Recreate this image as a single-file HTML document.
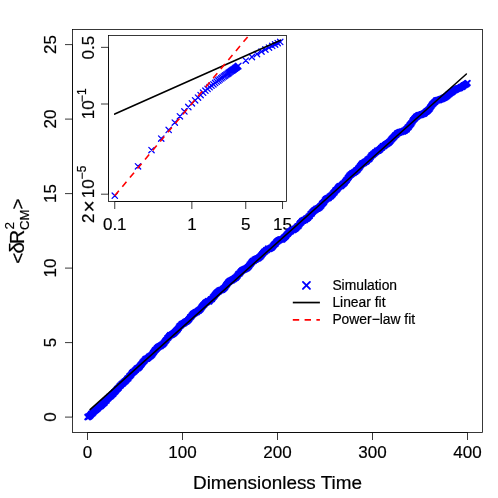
<!DOCTYPE html>
<html><head><meta charset="utf-8"><title>plot</title>
<style>html,body{margin:0;padding:0;background:#fff}svg{display:block;will-change:transform}text{font-family:"Liberation Sans",sans-serif;stroke:#000;stroke-width:0.2px}</style>
</head><body>
<svg width="498" height="498" viewBox="0 0 498 498" font-family="Liberation Sans, sans-serif" fill="#000">
<rect width="498" height="498" fill="#fff"/>
<rect x="72.5" y="29.5" width="410.0" height="403.0" fill="none" stroke="#000" stroke-width="0.78"/>
<path d="M87.50 432.5v7.5M182.50 432.5v7.5M277.50 432.5v7.5M372.50 432.5v7.5M467.50 432.5v7.5M87.50 432.5H467.50M72.5 417.10h-7.5M72.5 342.60h-7.5M72.5 268.10h-7.5M72.5 193.60h-7.5M72.5 119.10h-7.5M72.5 44.60h-7.5M72.5 417.10V44.60" stroke="#000" stroke-width="0.78" fill="none"/>
<text x="87.50" y="457.9" font-size="17.0" text-anchor="middle">0</text>
<text x="182.50" y="457.9" font-size="17.0" text-anchor="middle">100</text>
<text x="277.50" y="457.9" font-size="17.0" text-anchor="middle">200</text>
<text x="372.50" y="457.9" font-size="17.0" text-anchor="middle">300</text>
<text x="467.50" y="457.9" font-size="17.0" text-anchor="middle">400</text>
<text transform="translate(55.7 417.10) rotate(-90)" font-size="17.0" text-anchor="middle">0</text>
<text transform="translate(55.7 342.60) rotate(-90)" font-size="17.0" text-anchor="middle">5</text>
<text transform="translate(55.7 268.10) rotate(-90)" font-size="17.0" text-anchor="middle">10</text>
<text transform="translate(55.7 193.60) rotate(-90)" font-size="17.0" text-anchor="middle">15</text>
<text transform="translate(55.7 119.10) rotate(-90)" font-size="17.0" text-anchor="middle">20</text>
<text transform="translate(55.7 44.60) rotate(-90)" font-size="17.0" text-anchor="middle">25</text>
<text x="277.50" y="489.3" font-size="18.9" text-anchor="middle">Dimensionless Time</text>
<text transform="translate(23.9 258.3) rotate(-90)" font-size="18.9" text-anchor="middle">&lt;</text>
<text transform="translate(23.9 247.8) rotate(-90)" font-size="20.5" text-anchor="middle">δ</text>
<text transform="translate(23.9 236.85) rotate(-90)" font-size="19.6" text-anchor="middle">R</text>
<text transform="translate(14.099999999999998 225.8) rotate(-90)" font-size="13.6" text-anchor="middle">2</text>
<text transform="translate(29.2 219.85) rotate(-90)" font-size="13.1" text-anchor="middle">CM</text>
<text transform="translate(24.299999999999997 204.05) rotate(-90)" font-size="18.9" text-anchor="middle">&gt;</text>
<rect x="108.5" y="35.5" width="178.0" height="166.0" fill="#fff" stroke="none"/>
<clipPath id="ic"><rect x="108.5" y="35.5" width="178.0" height="166.0"/></clipPath>
<g clip-path="url(#ic)">
<path d="M112.1 193.0l5.4 5.4m0 -5.4l-5.4 5.4M135.3 163.6l5.4 5.4m0 -5.4l-5.4 5.4M148.8 147.4l5.4 5.4m0 -5.4l-5.4 5.4M158.5 135.9l5.4 5.4m0 -5.4l-5.4 5.4M166.0 127.2l5.4 5.4m0 -5.4l-5.4 5.4M172.1 119.9l5.4 5.4m0 -5.4l-5.4 5.4M177.2 113.6l5.4 5.4m0 -5.4l-5.4 5.4M181.7 108.7l5.4 5.4m0 -5.4l-5.4 5.4M185.6 104.3l5.4 5.4m0 -5.4l-5.4 5.4M189.2 100.6l5.4 5.4m0 -5.4l-5.4 5.4M192.4 97.6l5.4 5.4m0 -5.4l-5.4 5.4M195.3 94.9l5.4 5.4m0 -5.4l-5.4 5.4M197.9 92.4l5.4 5.4m0 -5.4l-5.4 5.4M200.4 90.0l5.4 5.4m0 -5.4l-5.4 5.4M202.7 88.0l5.4 5.4m0 -5.4l-5.4 5.4M204.9 86.2l5.4 5.4m0 -5.4l-5.4 5.4M206.9 84.5l5.4 5.4m0 -5.4l-5.4 5.4M208.8 83.0l5.4 5.4m0 -5.4l-5.4 5.4M210.7 81.6l5.4 5.4m0 -5.4l-5.4 5.4M212.4 80.2l5.4 5.4m0 -5.4l-5.4 5.4M214.0 79.0l5.4 5.4m0 -5.4l-5.4 5.4M215.6 77.8l5.4 5.4m0 -5.4l-5.4 5.4M217.0 76.7l5.4 5.4m0 -5.4l-5.4 5.4M218.5 75.7l5.4 5.4m0 -5.4l-5.4 5.4M219.8 74.7l5.4 5.4m0 -5.4l-5.4 5.4M221.2 73.7l5.4 5.4m0 -5.4l-5.4 5.4M222.4 72.8l5.4 5.4m0 -5.4l-5.4 5.4M223.6 71.9l5.4 5.4m0 -5.4l-5.4 5.4M224.8 71.1l5.4 5.4m0 -5.4l-5.4 5.4M225.9 70.3l5.4 5.4m0 -5.4l-5.4 5.4M227.0 69.5l5.4 5.4m0 -5.4l-5.4 5.4M228.1 68.7l5.4 5.4m0 -5.4l-5.4 5.4M229.1 68.0l5.4 5.4m0 -5.4l-5.4 5.4M230.1 67.3l5.4 5.4m0 -5.4l-5.4 5.4M231.1 66.6l5.4 5.4m0 -5.4l-5.4 5.4M232.1 65.9l5.4 5.4m0 -5.4l-5.4 5.4M233.0 65.2l5.4 5.4m0 -5.4l-5.4 5.4M233.9 64.6l5.4 5.4m0 -5.4l-5.4 5.4M234.7 63.9l5.4 5.4m0 -5.4l-5.4 5.4M235.6 63.3l5.4 5.4m0 -5.4l-5.4 5.4M243.1 57.9l5.4 5.4m0 -5.4l-5.4 5.4M249.2 54.3l5.4 5.4m0 -5.4l-5.4 5.4M254.3 51.4l5.4 5.4m0 -5.4l-5.4 5.4M258.8 48.9l5.4 5.4m0 -5.4l-5.4 5.4M262.7 46.8l5.4 5.4m0 -5.4l-5.4 5.4M266.3 44.9l5.4 5.4m0 -5.4l-5.4 5.4M269.5 43.2l5.4 5.4m0 -5.4l-5.4 5.4M272.4 41.8l5.4 5.4m0 -5.4l-5.4 5.4M275.0 40.4l5.4 5.4m0 -5.4l-5.4 5.4M277.5 39.2l5.4 5.4m0 -5.4l-5.4 5.4" stroke="#0000ff" stroke-width="1.3" stroke-linecap="round" fill="none"/>
<line x1="114.76" y1="114.1" x2="280.5" y2="40.2" stroke="#000" stroke-width="1.6" stroke-linecap="round"/>
<line x1="114.76" y1="195.7" x2="248.82" y2="35.5" stroke="#ff0000" stroke-width="1.6" stroke-dasharray="6.4 5.4"/>
</g>
<rect x="108.5" y="35.5" width="178.0" height="166.0" fill="none" stroke="#000" stroke-width="0.78"/>
<path d="M114.76 201.5v7.5M191.86 201.5v7.5M245.75 201.5v7.5M282.54 201.5v7.5M114.76 201.5H282.54M108.5 47.35h-7.5M108.5 104.0h-7.5M108.5 194.2h-7.5M108.5 47.35V194.2" stroke="#000" stroke-width="0.78" fill="none"/>
<text x="114.76" y="229.5" font-size="17.0" text-anchor="middle">0.1</text>
<text x="191.86" y="229.5" font-size="17.0" text-anchor="middle">1</text>
<text x="245.75" y="229.5" font-size="17.0" text-anchor="middle">5</text>
<text x="282.54" y="229.5" font-size="17.0" text-anchor="middle">15</text>
<text transform="translate(93.7 47.6) rotate(-90)" font-size="17.0" text-anchor="middle">0.5</text>
<text transform="translate(93.7 109.85) rotate(-90)" font-size="17.0" text-anchor="middle">10</text>
<text transform="translate(85.5 95.05) rotate(-90)" font-size="11.9" text-anchor="middle">−1</text>
<text transform="translate(93.7 218.35) rotate(-90)" font-size="17.0" text-anchor="middle">2</text>
<text transform="translate(95.7 206.4) rotate(-90)" font-size="21" text-anchor="middle">×</text>
<text transform="translate(93.7 188.85) rotate(-90)" font-size="17.0" text-anchor="middle">10</text>
<text transform="translate(85.5 172.3) rotate(-90)" font-size="11.9" text-anchor="middle">−5</text>
<path d="M85.2 414.8l4.6 4.6m0 -4.6l-4.6 4.6M85.3 414.8l4.6 4.6m0 -4.6l-4.6 4.6M85.4 414.8l4.6 4.6m0 -4.6l-4.6 4.6M85.5 414.8l4.6 4.6m0 -4.6l-4.6 4.6M85.6 414.7l4.6 4.6m0 -4.6l-4.6 4.6M85.7 414.7l4.6 4.6m0 -4.6l-4.6 4.6M85.8 414.7l4.6 4.6m0 -4.6l-4.6 4.6M85.9 414.6l4.6 4.6m0 -4.6l-4.6 4.6M86.0 414.6l4.6 4.6m0 -4.6l-4.6 4.6M86.1 414.5l4.6 4.6m0 -4.6l-4.6 4.6M86.2 414.5l4.6 4.6m0 -4.6l-4.6 4.6M86.2 414.4l4.6 4.6m0 -4.6l-4.6 4.6M86.3 414.4l4.6 4.6m0 -4.6l-4.6 4.6M86.4 414.3l4.6 4.6m0 -4.6l-4.6 4.6M86.5 414.2l4.6 4.6m0 -4.6l-4.6 4.6M86.6 414.2l4.6 4.6m0 -4.6l-4.6 4.6M86.7 414.1l4.6 4.6m0 -4.6l-4.6 4.6M86.8 414.0l4.6 4.6m0 -4.6l-4.6 4.6M86.9 414.0l4.6 4.6m0 -4.6l-4.6 4.6M87.0 413.9l4.6 4.6m0 -4.6l-4.6 4.6M87.1 413.8l4.6 4.6m0 -4.6l-4.6 4.6M87.2 413.7l4.6 4.6m0 -4.6l-4.6 4.6M87.3 413.6l4.6 4.6m0 -4.6l-4.6 4.6M87.4 413.6l4.6 4.6m0 -4.6l-4.6 4.6M87.5 413.5l4.6 4.6m0 -4.6l-4.6 4.6M87.6 413.4l4.6 4.6m0 -4.6l-4.6 4.6M87.7 413.3l4.6 4.6m0 -4.6l-4.6 4.6M87.8 413.2l4.6 4.6m0 -4.6l-4.6 4.6M87.9 413.1l4.6 4.6m0 -4.6l-4.6 4.6M88.0 413.0l4.6 4.6m0 -4.6l-4.6 4.6M88.0 412.9l4.6 4.6m0 -4.6l-4.6 4.6M88.1 412.8l4.6 4.6m0 -4.6l-4.6 4.6M88.2 412.7l4.6 4.6m0 -4.6l-4.6 4.6M88.3 412.6l4.6 4.6m0 -4.6l-4.6 4.6M88.4 412.5l4.6 4.6m0 -4.6l-4.6 4.6M88.5 412.4l4.6 4.6m0 -4.6l-4.6 4.6M88.6 412.3l4.6 4.6m0 -4.6l-4.6 4.6M88.7 412.1l4.6 4.6m0 -4.6l-4.6 4.6M88.8 412.0l4.6 4.6m0 -4.6l-4.6 4.6M88.9 411.9l4.6 4.6m0 -4.6l-4.6 4.6M89.0 411.5l4.6 4.6m0 -4.6l-4.6 4.6M90.0 411.1l4.6 4.6m0 -4.6l-4.6 4.6M90.9 410.1l4.6 4.6m0 -4.6l-4.6 4.6M91.9 409.0l4.6 4.6m0 -4.6l-4.6 4.6M92.8 408.3l4.6 4.6m0 -4.6l-4.6 4.6M93.8 407.5l4.6 4.6m0 -4.6l-4.6 4.6M94.7 406.6l4.6 4.6m0 -4.6l-4.6 4.6M95.7 405.9l4.6 4.6m0 -4.6l-4.6 4.6M96.6 404.6l4.6 4.6m0 -4.6l-4.6 4.6M97.5 404.2l4.6 4.6m0 -4.6l-4.6 4.6M98.5 403.6l4.6 4.6m0 -4.6l-4.6 4.6M99.5 402.7l4.6 4.6m0 -4.6l-4.6 4.6M100.4 401.8l4.6 4.6m0 -4.6l-4.6 4.6M101.4 400.9l4.6 4.6m0 -4.6l-4.6 4.6M102.3 400.1l4.6 4.6m0 -4.6l-4.6 4.6M103.2 398.6l4.6 4.6m0 -4.6l-4.6 4.6M104.2 398.1l4.6 4.6m0 -4.6l-4.6 4.6M105.2 396.5l4.6 4.6m0 -4.6l-4.6 4.6M106.1 395.8l4.6 4.6m0 -4.6l-4.6 4.6M107.0 394.6l4.6 4.6m0 -4.6l-4.6 4.6M108.0 394.2l4.6 4.6m0 -4.6l-4.6 4.6M109.0 393.3l4.6 4.6m0 -4.6l-4.6 4.6M109.9 392.1l4.6 4.6m0 -4.6l-4.6 4.6M110.9 391.5l4.6 4.6m0 -4.6l-4.6 4.6M111.8 390.1l4.6 4.6m0 -4.6l-4.6 4.6M112.8 389.3l4.6 4.6m0 -4.6l-4.6 4.6M113.7 388.2l4.6 4.6m0 -4.6l-4.6 4.6M114.7 386.9l4.6 4.6m0 -4.6l-4.6 4.6M115.6 386.1l4.6 4.6m0 -4.6l-4.6 4.6M116.5 385.3l4.6 4.6m0 -4.6l-4.6 4.6M117.5 383.7l4.6 4.6m0 -4.6l-4.6 4.6M118.5 383.0l4.6 4.6m0 -4.6l-4.6 4.6M119.4 381.8l4.6 4.6m0 -4.6l-4.6 4.6M120.4 381.3l4.6 4.6m0 -4.6l-4.6 4.6M121.3 380.3l4.6 4.6m0 -4.6l-4.6 4.6M122.2 379.5l4.6 4.6m0 -4.6l-4.6 4.6M123.2 378.7l4.6 4.6m0 -4.6l-4.6 4.6M124.1 377.7l4.6 4.6m0 -4.6l-4.6 4.6M125.1 376.4l4.6 4.6m0 -4.6l-4.6 4.6M126.0 375.9l4.6 4.6m0 -4.6l-4.6 4.6M127.0 374.1l4.6 4.6m0 -4.6l-4.6 4.6M128.0 373.3l4.6 4.6m0 -4.6l-4.6 4.6M128.9 372.1l4.6 4.6m0 -4.6l-4.6 4.6M129.8 370.7l4.6 4.6m0 -4.6l-4.6 4.6M130.8 369.9l4.6 4.6m0 -4.6l-4.6 4.6M131.8 369.2l4.6 4.6m0 -4.6l-4.6 4.6M132.7 368.2l4.6 4.6m0 -4.6l-4.6 4.6M133.6 367.4l4.6 4.6m0 -4.6l-4.6 4.6M134.6 366.3l4.6 4.6m0 -4.6l-4.6 4.6M135.5 365.9l4.6 4.6m0 -4.6l-4.6 4.6M136.5 365.1l4.6 4.6m0 -4.6l-4.6 4.6M137.4 364.1l4.6 4.6m0 -4.6l-4.6 4.6M138.4 362.8l4.6 4.6m0 -4.6l-4.6 4.6M139.3 361.8l4.6 4.6m0 -4.6l-4.6 4.6M140.3 360.3l4.6 4.6m0 -4.6l-4.6 4.6M141.2 359.2l4.6 4.6m0 -4.6l-4.6 4.6M142.2 358.3l4.6 4.6m0 -4.6l-4.6 4.6M143.1 357.0l4.6 4.6m0 -4.6l-4.6 4.6M144.1 356.4l4.6 4.6m0 -4.6l-4.6 4.6M145.0 356.3l4.6 4.6m0 -4.6l-4.6 4.6M146.0 355.4l4.6 4.6m0 -4.6l-4.6 4.6M146.9 354.4l4.6 4.6m0 -4.6l-4.6 4.6M147.9 353.9l4.6 4.6m0 -4.6l-4.6 4.6M148.8 353.2l4.6 4.6m0 -4.6l-4.6 4.6M149.8 352.2l4.6 4.6m0 -4.6l-4.6 4.6M150.8 350.8l4.6 4.6m0 -4.6l-4.6 4.6M151.7 349.4l4.6 4.6m0 -4.6l-4.6 4.6M152.6 348.1l4.6 4.6m0 -4.6l-4.6 4.6M153.6 347.2l4.6 4.6m0 -4.6l-4.6 4.6M154.5 346.1l4.6 4.6m0 -4.6l-4.6 4.6M155.5 345.1l4.6 4.6m0 -4.6l-4.6 4.6M156.4 344.5l4.6 4.6m0 -4.6l-4.6 4.6M157.4 343.9l4.6 4.6m0 -4.6l-4.6 4.6M158.3 343.6l4.6 4.6m0 -4.6l-4.6 4.6M159.3 342.7l4.6 4.6m0 -4.6l-4.6 4.6M160.2 342.2l4.6 4.6m0 -4.6l-4.6 4.6M161.2 341.3l4.6 4.6m0 -4.6l-4.6 4.6M162.1 340.1l4.6 4.6m0 -4.6l-4.6 4.6M163.1 338.6l4.6 4.6m0 -4.6l-4.6 4.6M164.0 337.7l4.6 4.6m0 -4.6l-4.6 4.6M165.0 336.0l4.6 4.6m0 -4.6l-4.6 4.6M165.9 335.1l4.6 4.6m0 -4.6l-4.6 4.6M166.9 333.9l4.6 4.6m0 -4.6l-4.6 4.6M167.8 332.9l4.6 4.6m0 -4.6l-4.6 4.6M168.8 332.7l4.6 4.6m0 -4.6l-4.6 4.6M169.8 332.1l4.6 4.6m0 -4.6l-4.6 4.6M170.7 331.5l4.6 4.6m0 -4.6l-4.6 4.6M171.6 330.9l4.6 4.6m0 -4.6l-4.6 4.6M172.6 329.9l4.6 4.6m0 -4.6l-4.6 4.6M173.5 328.9l4.6 4.6m0 -4.6l-4.6 4.6M174.5 327.9l4.6 4.6m0 -4.6l-4.6 4.6M175.4 327.0l4.6 4.6m0 -4.6l-4.6 4.6M176.4 325.5l4.6 4.6m0 -4.6l-4.6 4.6M177.3 324.0l4.6 4.6m0 -4.6l-4.6 4.6M178.3 323.2l4.6 4.6m0 -4.6l-4.6 4.6M179.2 322.1l4.6 4.6m0 -4.6l-4.6 4.6M180.2 321.5l4.6 4.6m0 -4.6l-4.6 4.6M181.1 321.2l4.6 4.6m0 -4.6l-4.6 4.6M182.1 320.5l4.6 4.6m0 -4.6l-4.6 4.6M183.0 319.7l4.6 4.6m0 -4.6l-4.6 4.6M184.0 319.3l4.6 4.6m0 -4.6l-4.6 4.6M184.9 318.7l4.6 4.6m0 -4.6l-4.6 4.6M185.9 317.7l4.6 4.6m0 -4.6l-4.6 4.6M186.8 316.7l4.6 4.6m0 -4.6l-4.6 4.6M187.8 315.1l4.6 4.6m0 -4.6l-4.6 4.6M188.8 314.2l4.6 4.6m0 -4.6l-4.6 4.6M189.7 313.0l4.6 4.6m0 -4.6l-4.6 4.6M190.6 311.9l4.6 4.6m0 -4.6l-4.6 4.6M191.6 311.3l4.6 4.6m0 -4.6l-4.6 4.6M192.5 310.6l4.6 4.6m0 -4.6l-4.6 4.6M193.5 309.9l4.6 4.6m0 -4.6l-4.6 4.6M194.4 309.8l4.6 4.6m0 -4.6l-4.6 4.6M195.4 308.8l4.6 4.6m0 -4.6l-4.6 4.6M196.3 308.4l4.6 4.6m0 -4.6l-4.6 4.6M197.3 307.5l4.6 4.6m0 -4.6l-4.6 4.6M198.2 306.6l4.6 4.6m0 -4.6l-4.6 4.6M199.2 305.1l4.6 4.6m0 -4.6l-4.6 4.6M200.1 304.0l4.6 4.6m0 -4.6l-4.6 4.6M201.1 302.8l4.6 4.6m0 -4.6l-4.6 4.6M202.0 301.9l4.6 4.6m0 -4.6l-4.6 4.6M203.0 300.7l4.6 4.6m0 -4.6l-4.6 4.6M203.9 300.1l4.6 4.6m0 -4.6l-4.6 4.6M204.9 299.5l4.6 4.6m0 -4.6l-4.6 4.6M205.8 298.8l4.6 4.6m0 -4.6l-4.6 4.6M206.8 299.1l4.6 4.6m0 -4.6l-4.6 4.6M207.8 298.0l4.6 4.6m0 -4.6l-4.6 4.6M208.7 297.0l4.6 4.6m0 -4.6l-4.6 4.6M209.6 296.7l4.6 4.6m0 -4.6l-4.6 4.6M210.6 295.1l4.6 4.6m0 -4.6l-4.6 4.6M211.5 294.2l4.6 4.6m0 -4.6l-4.6 4.6M212.5 293.0l4.6 4.6m0 -4.6l-4.6 4.6M213.4 291.6l4.6 4.6m0 -4.6l-4.6 4.6M214.4 290.6l4.6 4.6m0 -4.6l-4.6 4.6M215.3 289.7l4.6 4.6m0 -4.6l-4.6 4.6M216.3 289.1l4.6 4.6m0 -4.6l-4.6 4.6M217.2 288.3l4.6 4.6m0 -4.6l-4.6 4.6M218.2 287.9l4.6 4.6m0 -4.6l-4.6 4.6M219.1 287.6l4.6 4.6m0 -4.6l-4.6 4.6M220.1 287.3l4.6 4.6m0 -4.6l-4.6 4.6M221.0 286.4l4.6 4.6m0 -4.6l-4.6 4.6M222.0 285.7l4.6 4.6m0 -4.6l-4.6 4.6M222.9 284.4l4.6 4.6m0 -4.6l-4.6 4.6M223.9 282.9l4.6 4.6m0 -4.6l-4.6 4.6M224.8 281.7l4.6 4.6m0 -4.6l-4.6 4.6M225.8 280.2l4.6 4.6m0 -4.6l-4.6 4.6M226.7 279.5l4.6 4.6m0 -4.6l-4.6 4.6M227.7 278.7l4.6 4.6m0 -4.6l-4.6 4.6M228.6 278.3l4.6 4.6m0 -4.6l-4.6 4.6M229.6 277.9l4.6 4.6m0 -4.6l-4.6 4.6M230.5 277.2l4.6 4.6m0 -4.6l-4.6 4.6M231.5 276.7l4.6 4.6m0 -4.6l-4.6 4.6M232.4 275.9l4.6 4.6m0 -4.6l-4.6 4.6M233.4 275.4l4.6 4.6m0 -4.6l-4.6 4.6M234.3 274.4l4.6 4.6m0 -4.6l-4.6 4.6M235.3 273.3l4.6 4.6m0 -4.6l-4.6 4.6M236.2 271.8l4.6 4.6m0 -4.6l-4.6 4.6M237.2 271.2l4.6 4.6m0 -4.6l-4.6 4.6M238.1 270.0l4.6 4.6m0 -4.6l-4.6 4.6M239.1 268.8l4.6 4.6m0 -4.6l-4.6 4.6M240.0 268.0l4.6 4.6m0 -4.6l-4.6 4.6M241.0 267.5l4.6 4.6m0 -4.6l-4.6 4.6M241.9 267.1l4.6 4.6m0 -4.6l-4.6 4.6M242.9 266.6l4.6 4.6m0 -4.6l-4.6 4.6M243.8 266.2l4.6 4.6m0 -4.6l-4.6 4.6M244.8 265.6l4.6 4.6m0 -4.6l-4.6 4.6M245.7 264.8l4.6 4.6m0 -4.6l-4.6 4.6M246.7 263.8l4.6 4.6m0 -4.6l-4.6 4.6M247.6 262.3l4.6 4.6m0 -4.6l-4.6 4.6M248.6 261.2l4.6 4.6m0 -4.6l-4.6 4.6M249.5 259.9l4.6 4.6m0 -4.6l-4.6 4.6M250.5 258.8l4.6 4.6m0 -4.6l-4.6 4.6M251.4 258.5l4.6 4.6m0 -4.6l-4.6 4.6M252.4 257.4l4.6 4.6m0 -4.6l-4.6 4.6M253.3 257.3l4.6 4.6m0 -4.6l-4.6 4.6M254.3 256.5l4.6 4.6m0 -4.6l-4.6 4.6M255.2 256.2l4.6 4.6m0 -4.6l-4.6 4.6M256.2 255.8l4.6 4.6m0 -4.6l-4.6 4.6M257.1 254.9l4.6 4.6m0 -4.6l-4.6 4.6M258.1 254.1l4.6 4.6m0 -4.6l-4.6 4.6M259.1 252.9l4.6 4.6m0 -4.6l-4.6 4.6M260.0 251.7l4.6 4.6m0 -4.6l-4.6 4.6M260.9 250.6l4.6 4.6m0 -4.6l-4.6 4.6M261.9 249.5l4.6 4.6m0 -4.6l-4.6 4.6M262.8 249.0l4.6 4.6m0 -4.6l-4.6 4.6M263.8 247.9l4.6 4.6m0 -4.6l-4.6 4.6M264.7 247.7l4.6 4.6m0 -4.6l-4.6 4.6M265.7 246.4l4.6 4.6m0 -4.6l-4.6 4.6M266.6 246.6l4.6 4.6m0 -4.6l-4.6 4.6M267.6 246.3l4.6 4.6m0 -4.6l-4.6 4.6M268.6 245.6l4.6 4.6m0 -4.6l-4.6 4.6M269.5 245.2l4.6 4.6m0 -4.6l-4.6 4.6M270.4 244.2l4.6 4.6m0 -4.6l-4.6 4.6M271.4 242.9l4.6 4.6m0 -4.6l-4.6 4.6M272.3 241.9l4.6 4.6m0 -4.6l-4.6 4.6M273.3 241.3l4.6 4.6m0 -4.6l-4.6 4.6M274.2 239.8l4.6 4.6m0 -4.6l-4.6 4.6M275.2 238.9l4.6 4.6m0 -4.6l-4.6 4.6M276.1 238.2l4.6 4.6m0 -4.6l-4.6 4.6M277.1 237.8l4.6 4.6m0 -4.6l-4.6 4.6M278.1 237.1l4.6 4.6m0 -4.6l-4.6 4.6M279.0 237.0l4.6 4.6m0 -4.6l-4.6 4.6M279.9 237.1l4.6 4.6m0 -4.6l-4.6 4.6M280.9 236.2l4.6 4.6m0 -4.6l-4.6 4.6M281.8 235.4l4.6 4.6m0 -4.6l-4.6 4.6M282.8 234.5l4.6 4.6m0 -4.6l-4.6 4.6M283.7 233.6l4.6 4.6m0 -4.6l-4.6 4.6M284.7 232.2l4.6 4.6m0 -4.6l-4.6 4.6M285.6 231.4l4.6 4.6m0 -4.6l-4.6 4.6M286.6 230.3l4.6 4.6m0 -4.6l-4.6 4.6M287.6 229.3l4.6 4.6m0 -4.6l-4.6 4.6M288.5 229.0l4.6 4.6m0 -4.6l-4.6 4.6M289.4 227.8l4.6 4.6m0 -4.6l-4.6 4.6M290.4 227.8l4.6 4.6m0 -4.6l-4.6 4.6M291.3 227.5l4.6 4.6m0 -4.6l-4.6 4.6M292.3 226.8l4.6 4.6m0 -4.6l-4.6 4.6M293.2 226.3l4.6 4.6m0 -4.6l-4.6 4.6M294.2 225.3l4.6 4.6m0 -4.6l-4.6 4.6M295.1 224.2l4.6 4.6m0 -4.6l-4.6 4.6M296.1 223.7l4.6 4.6m0 -4.6l-4.6 4.6M297.1 222.0l4.6 4.6m0 -4.6l-4.6 4.6M298.0 220.7l4.6 4.6m0 -4.6l-4.6 4.6M298.9 220.0l4.6 4.6m0 -4.6l-4.6 4.6M299.9 218.8l4.6 4.6m0 -4.6l-4.6 4.6M300.8 218.4l4.6 4.6m0 -4.6l-4.6 4.6M301.8 217.8l4.6 4.6m0 -4.6l-4.6 4.6M302.7 217.6l4.6 4.6m0 -4.6l-4.6 4.6M303.7 216.5l4.6 4.6m0 -4.6l-4.6 4.6M304.6 216.3l4.6 4.6m0 -4.6l-4.6 4.6M305.6 215.4l4.6 4.6m0 -4.6l-4.6 4.6M306.6 214.2l4.6 4.6m0 -4.6l-4.6 4.6M307.5 213.5l4.6 4.6m0 -4.6l-4.6 4.6M308.4 211.8l4.6 4.6m0 -4.6l-4.6 4.6M309.4 211.1l4.6 4.6m0 -4.6l-4.6 4.6M310.3 209.8l4.6 4.6m0 -4.6l-4.6 4.6M311.3 208.8l4.6 4.6m0 -4.6l-4.6 4.6M312.2 207.9l4.6 4.6m0 -4.6l-4.6 4.6M313.2 207.5l4.6 4.6m0 -4.6l-4.6 4.6M314.1 206.5l4.6 4.6m0 -4.6l-4.6 4.6M315.1 206.4l4.6 4.6m0 -4.6l-4.6 4.6M316.1 205.7l4.6 4.6m0 -4.6l-4.6 4.6M317.0 205.1l4.6 4.6m0 -4.6l-4.6 4.6M317.9 204.1l4.6 4.6m0 -4.6l-4.6 4.6M318.9 203.2l4.6 4.6m0 -4.6l-4.6 4.6M319.8 201.6l4.6 4.6m0 -4.6l-4.6 4.6M320.8 200.8l4.6 4.6m0 -4.6l-4.6 4.6M321.7 199.7l4.6 4.6m0 -4.6l-4.6 4.6M322.7 198.0l4.6 4.6m0 -4.6l-4.6 4.6M323.6 197.0l4.6 4.6m0 -4.6l-4.6 4.6M324.6 196.3l4.6 4.6m0 -4.6l-4.6 4.6M325.6 195.9l4.6 4.6m0 -4.6l-4.6 4.6M326.5 195.5l4.6 4.6m0 -4.6l-4.6 4.6M327.4 194.4l4.6 4.6m0 -4.6l-4.6 4.6M328.4 193.9l4.6 4.6m0 -4.6l-4.6 4.6M329.3 193.0l4.6 4.6m0 -4.6l-4.6 4.6M330.3 192.0l4.6 4.6m0 -4.6l-4.6 4.6M331.2 190.8l4.6 4.6m0 -4.6l-4.6 4.6M332.2 189.9l4.6 4.6m0 -4.6l-4.6 4.6M333.1 188.3l4.6 4.6m0 -4.6l-4.6 4.6M334.1 187.6l4.6 4.6m0 -4.6l-4.6 4.6M335.1 186.4l4.6 4.6m0 -4.6l-4.6 4.6M336.0 185.1l4.6 4.6m0 -4.6l-4.6 4.6M336.9 184.3l4.6 4.6m0 -4.6l-4.6 4.6M337.9 183.8l4.6 4.6m0 -4.6l-4.6 4.6M338.8 183.6l4.6 4.6m0 -4.6l-4.6 4.6M339.8 182.5l4.6 4.6m0 -4.6l-4.6 4.6M340.7 181.6l4.6 4.6m0 -4.6l-4.6 4.6M341.7 181.0l4.6 4.6m0 -4.6l-4.6 4.6M342.6 179.9l4.6 4.6m0 -4.6l-4.6 4.6M343.6 178.4l4.6 4.6m0 -4.6l-4.6 4.6M344.5 177.5l4.6 4.6m0 -4.6l-4.6 4.6M345.5 175.9l4.6 4.6m0 -4.6l-4.6 4.6M346.4 174.6l4.6 4.6m0 -4.6l-4.6 4.6M347.4 173.3l4.6 4.6m0 -4.6l-4.6 4.6M348.3 172.5l4.6 4.6m0 -4.6l-4.6 4.6M349.3 171.8l4.6 4.6m0 -4.6l-4.6 4.6M350.2 170.7l4.6 4.6m0 -4.6l-4.6 4.6M351.2 170.7l4.6 4.6m0 -4.6l-4.6 4.6M352.1 169.7l4.6 4.6m0 -4.6l-4.6 4.6M353.1 169.3l4.6 4.6m0 -4.6l-4.6 4.6M354.0 168.1l4.6 4.6m0 -4.6l-4.6 4.6M355.0 167.8l4.6 4.6m0 -4.6l-4.6 4.6M355.9 166.3l4.6 4.6m0 -4.6l-4.6 4.6M356.9 165.2l4.6 4.6m0 -4.6l-4.6 4.6M357.8 164.0l4.6 4.6m0 -4.6l-4.6 4.6M358.8 162.5l4.6 4.6m0 -4.6l-4.6 4.6M359.8 161.4l4.6 4.6m0 -4.6l-4.6 4.6M360.7 161.0l4.6 4.6m0 -4.6l-4.6 4.6M361.6 160.6l4.6 4.6m0 -4.6l-4.6 4.6M362.6 159.8l4.6 4.6m0 -4.6l-4.6 4.6M363.5 159.4l4.6 4.6m0 -4.6l-4.6 4.6M364.5 158.7l4.6 4.6m0 -4.6l-4.6 4.6M365.4 157.4l4.6 4.6m0 -4.6l-4.6 4.6M366.4 156.9l4.6 4.6m0 -4.6l-4.6 4.6M367.3 156.2l4.6 4.6m0 -4.6l-4.6 4.6M368.3 154.6l4.6 4.6m0 -4.6l-4.6 4.6M369.2 153.3l4.6 4.6m0 -4.6l-4.6 4.6M370.2 152.6l4.6 4.6m0 -4.6l-4.6 4.6M371.1 151.6l4.6 4.6m0 -4.6l-4.6 4.6M372.1 151.0l4.6 4.6m0 -4.6l-4.6 4.6M373.0 150.0l4.6 4.6m0 -4.6l-4.6 4.6M374.0 149.5l4.6 4.6m0 -4.6l-4.6 4.6M374.9 148.4l4.6 4.6m0 -4.6l-4.6 4.6M375.9 148.4l4.6 4.6m0 -4.6l-4.6 4.6M376.8 147.8l4.6 4.6m0 -4.6l-4.6 4.6M377.8 147.0l4.6 4.6m0 -4.6l-4.6 4.6M378.8 145.7l4.6 4.6m0 -4.6l-4.6 4.6M379.7 145.3l4.6 4.6m0 -4.6l-4.6 4.6M380.6 143.9l4.6 4.6m0 -4.6l-4.6 4.6M381.6 143.8l4.6 4.6m0 -4.6l-4.6 4.6M382.5 143.0l4.6 4.6m0 -4.6l-4.6 4.6M383.5 142.1l4.6 4.6m0 -4.6l-4.6 4.6M384.4 141.7l4.6 4.6m0 -4.6l-4.6 4.6M385.4 141.0l4.6 4.6m0 -4.6l-4.6 4.6M386.3 140.4l4.6 4.6m0 -4.6l-4.6 4.6M387.3 139.5l4.6 4.6m0 -4.6l-4.6 4.6M388.2 138.5l4.6 4.6m0 -4.6l-4.6 4.6M389.2 137.1l4.6 4.6m0 -4.6l-4.6 4.6M390.1 136.1l4.6 4.6m0 -4.6l-4.6 4.6M391.1 135.1l4.6 4.6m0 -4.6l-4.6 4.6M392.0 134.1l4.6 4.6m0 -4.6l-4.6 4.6M393.0 133.0l4.6 4.6m0 -4.6l-4.6 4.6M393.9 132.4l4.6 4.6m0 -4.6l-4.6 4.6M394.9 131.1l4.6 4.6m0 -4.6l-4.6 4.6M395.8 130.7l4.6 4.6m0 -4.6l-4.6 4.6M396.8 130.3l4.6 4.6m0 -4.6l-4.6 4.6M397.8 129.8l4.6 4.6m0 -4.6l-4.6 4.6M398.7 129.7l4.6 4.6m0 -4.6l-4.6 4.6M399.6 129.2l4.6 4.6m0 -4.6l-4.6 4.6M400.6 129.3l4.6 4.6m0 -4.6l-4.6 4.6M401.5 128.6l4.6 4.6m0 -4.6l-4.6 4.6M402.5 128.3l4.6 4.6m0 -4.6l-4.6 4.6M403.4 127.4l4.6 4.6m0 -4.6l-4.6 4.6M404.4 126.9l4.6 4.6m0 -4.6l-4.6 4.6M405.3 125.4l4.6 4.6m0 -4.6l-4.6 4.6M406.3 124.6l4.6 4.6m0 -4.6l-4.6 4.6M407.2 123.2l4.6 4.6m0 -4.6l-4.6 4.6M408.2 122.0l4.6 4.6m0 -4.6l-4.6 4.6M409.1 120.9l4.6 4.6m0 -4.6l-4.6 4.6M410.1 119.1l4.6 4.6m0 -4.6l-4.6 4.6M411.0 117.7l4.6 4.6m0 -4.6l-4.6 4.6M412.0 116.6l4.6 4.6m0 -4.6l-4.6 4.6M412.9 115.8l4.6 4.6m0 -4.6l-4.6 4.6M413.9 114.5l4.6 4.6m0 -4.6l-4.6 4.6M414.8 114.1l4.6 4.6m0 -4.6l-4.6 4.6M415.8 113.3l4.6 4.6m0 -4.6l-4.6 4.6M416.8 112.9l4.6 4.6m0 -4.6l-4.6 4.6M417.7 112.7l4.6 4.6m0 -4.6l-4.6 4.6M418.6 112.5l4.6 4.6m0 -4.6l-4.6 4.6M419.6 112.0l4.6 4.6m0 -4.6l-4.6 4.6M420.5 111.7l4.6 4.6m0 -4.6l-4.6 4.6M421.5 111.4l4.6 4.6m0 -4.6l-4.6 4.6M422.4 110.8l4.6 4.6m0 -4.6l-4.6 4.6M423.4 109.7l4.6 4.6m0 -4.6l-4.6 4.6M424.3 109.3l4.6 4.6m0 -4.6l-4.6 4.6M425.3 108.4l4.6 4.6m0 -4.6l-4.6 4.6M426.2 107.5l4.6 4.6m0 -4.6l-4.6 4.6M427.2 106.5l4.6 4.6m0 -4.6l-4.6 4.6M428.1 105.0l4.6 4.6m0 -4.6l-4.6 4.6M429.1 103.5l4.6 4.6m0 -4.6l-4.6 4.6M430.0 102.1l4.6 4.6m0 -4.6l-4.6 4.6M431.0 101.1l4.6 4.6m0 -4.6l-4.6 4.6M431.9 100.2l4.6 4.6m0 -4.6l-4.6 4.6M432.9 99.4l4.6 4.6m0 -4.6l-4.6 4.6M433.8 98.3l4.6 4.6m0 -4.6l-4.6 4.6M434.8 98.0l4.6 4.6m0 -4.6l-4.6 4.6M435.8 97.8l4.6 4.6m0 -4.6l-4.6 4.6M436.7 97.8l4.6 4.6m0 -4.6l-4.6 4.6M437.6 97.3l4.6 4.6m0 -4.6l-4.6 4.6M438.6 96.9l4.6 4.6m0 -4.6l-4.6 4.6M439.5 96.6l4.6 4.6m0 -4.6l-4.6 4.6M440.5 96.2l4.6 4.6m0 -4.6l-4.6 4.6M441.4 95.6l4.6 4.6m0 -4.6l-4.6 4.6M442.4 95.3l4.6 4.6m0 -4.6l-4.6 4.6M443.3 94.7l4.6 4.6m0 -4.6l-4.6 4.6M444.3 93.9l4.6 4.6m0 -4.6l-4.6 4.6M445.2 93.2l4.6 4.6m0 -4.6l-4.6 4.6M446.2 92.1l4.6 4.6m0 -4.6l-4.6 4.6M447.1 91.6l4.6 4.6m0 -4.6l-4.6 4.6M448.1 90.7l4.6 4.6m0 -4.6l-4.6 4.6M449.0 90.1l4.6 4.6m0 -4.6l-4.6 4.6M450.0 89.7l4.6 4.6m0 -4.6l-4.6 4.6M450.9 88.8l4.6 4.6m0 -4.6l-4.6 4.6M451.9 87.9l4.6 4.6m0 -4.6l-4.6 4.6M452.8 87.7l4.6 4.6m0 -4.6l-4.6 4.6M453.8 87.1l4.6 4.6m0 -4.6l-4.6 4.6M454.7 86.5l4.6 4.6m0 -4.6l-4.6 4.6M455.7 86.1l4.6 4.6m0 -4.6l-4.6 4.6M456.6 86.0l4.6 4.6m0 -4.6l-4.6 4.6M457.6 85.7l4.6 4.6m0 -4.6l-4.6 4.6M458.5 84.8l4.6 4.6m0 -4.6l-4.6 4.6M459.5 84.6l4.6 4.6m0 -4.6l-4.6 4.6M460.4 84.1l4.6 4.6m0 -4.6l-4.6 4.6M461.4 83.1l4.6 4.6m0 -4.6l-4.6 4.6M462.3 82.7l4.6 4.6m0 -4.6l-4.6 4.6M463.3 82.2l4.6 4.6m0 -4.6l-4.6 4.6M464.2 81.6l4.6 4.6m0 -4.6l-4.6 4.6M465.2 80.7l4.6 4.6m0 -4.6l-4.6 4.6" stroke="#0000ff" stroke-width="2.0" stroke-linecap="round" fill="none"/>
<line x1="90.05" y1="409.7" x2="466.4" y2="74.0" stroke="#000" stroke-width="1.56" stroke-linecap="round"/>
<path d="M302.95 281.95l7.0 7.0m0 -7.0l-7.0 7.0" stroke="#0000ff" stroke-width="1.9" stroke-linecap="round" fill="none"/>
<line x1="292.8" y1="302.55" x2="319.9" y2="302.55" stroke="#000" stroke-width="1.7"/>
<line x1="292.8" y1="319.8" x2="319.9" y2="319.8" stroke="#ff0000" stroke-width="1.7" stroke-dasharray="6.4 5.4"/>
<text x="332.4" y="290.3" font-size="13.85">Simulation</text>
<text x="332.4" y="307.15" font-size="13.85">Linear fit</text>
<text x="332.4" y="324.0" font-size="13.85">Power−law fit</text>
</svg>
</body></html>
